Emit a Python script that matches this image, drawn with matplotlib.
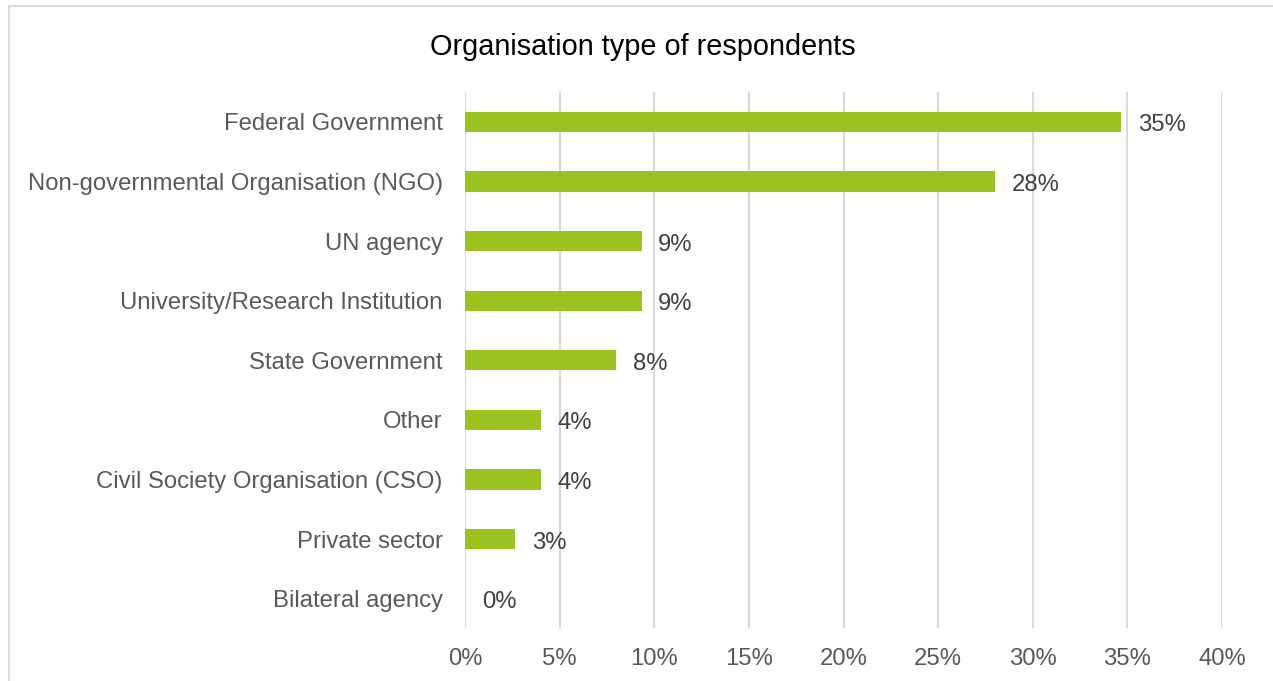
import matplotlib
matplotlib.use("Agg")
import matplotlib.pyplot as plt
from matplotlib.lines import Line2D

plt.rcParams['font.family'] = ['Liberation Sans', 'DejaVu Sans']

# respondents by organisation type (share of 75 responses)
categorias = ["Federal Government", "Non-governmental Organisation (NGO)", "UN agency",
              "University/Research Institution", "State Government", "Other",
              "Civil Society Organisation (CSO)", "Private sector", "Bilateral agency"]
valores = [26/75*100, 21/75*100, 7/75*100, 7/75*100, 6/75*100,
           3/75*100, 3/75*100, 2/75*100, 0]
ticks_x = [0, 5, 10, 15, 20, 25, 30, 35, 40]

verde = "#9BC31F"

fig = plt.figure(figsize=(12.73, 6.81), dpi=100)
ax = fig.add_axes([0.3653, 0.0771, 0.5947, 0.7878])

y = list(range(len(categorias)))
ax.barh(y, valores, height=0.34, color=verde, zorder=3)

# etiquetas de valor
for i, v in enumerate(valores):
    ax.annotate(f"{v:.0f}%", (v, i), xytext=(12, -2.5), textcoords="offset points",
                va="center", ha="left", fontsize=17.2, color="#404040")

ax.set_yticks(y)
ax.set_yticklabels(categorias)
ax.set_ylim(len(categorias) - 0.5, -0.5)
ax.set_xlim(0, 40)
ax.set_xticks(ticks_x)
ax.set_xticklabels([f"{t}%" for t in ticks_x])
ax.tick_params(axis="both", length=0, labelsize=17.2, labelcolor="#595959")
ax.tick_params(axis="y", pad=16)
ax.tick_params(axis="x", pad=14)

ax.grid(axis="x", color="#D9D9D9", linewidth=1.5, zorder=0)
for s in ax.spines.values():
    s.set_visible(False)

fig.text(0.505, 0.931, "Organisation type of respondents", ha="center", va="center",
         fontsize=20.8, color="#000000")

# borde del grafico
fig.add_artist(Line2D([8.5/1273, 8.5/1273], [0, 1 - 6/681], color="#D9D9D9", linewidth=1.5))
fig.add_artist(Line2D([8.5/1273, 1], [1 - 6/681, 1 - 6/681], color="#D9D9D9", linewidth=1.5))

fig.savefig("out.png", dpi=100)
